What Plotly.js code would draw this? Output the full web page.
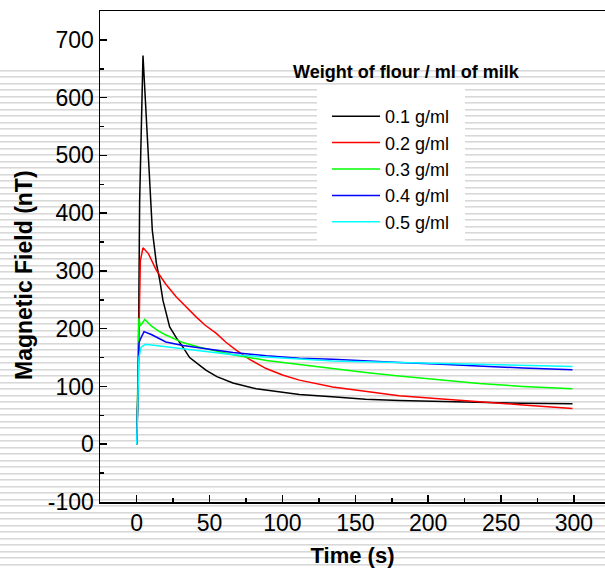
<!DOCTYPE html>
<html><head><meta charset="utf-8">
<script src="https://cdn.plot.ly/plotly-3.0.1.min.js"></script>
<style>
html,body{margin:0;padding:0;background:#fff;}
#wrap{position:relative;width:605px;height:570px;overflow:hidden;}
#stripes{position:absolute;left:0;top:70px;width:605px;height:500px;
background:repeating-linear-gradient(to bottom,#d8d8d8 0px,#d8d8d8 1px,#e8e8e8 1px,#e8e8e8 2px,#ffffff 2px,#ffffff 6.5px);}
#chart{position:absolute;left:0;top:0;width:605px;height:570px;}
</style></head><body>
<div id="wrap"><div id="stripes"></div><div id="chart"></div></div>
<script>
// Series names
const seriesNames = ["0.1 g/ml", "0.2 g/ml", "0.3 g/ml", "0.4 g/ml", "0.5 g/ml"];
const seriesColors = ["#000000", "#ff0000", "#00ff00", "#0000ff", "#00ffff"];

// Tick labels
const yTickVals = [-100, 0, 100, 200, 300, 400, 500, 600, 700];
const yTickText = ["-100", "0", "100", "200", "300", "400", "500", "600", "700"];
const xTickVals = [0, 50, 100, 150, 200, 250, 300];
const xTickText = ["0", "50", "100", "150", "200", "250", "300"];

// 0.1 g/ml
const t1 = [0, 1, 2, 4.3, 10.7, 13.5, 15.8, 18, 22.6, 27.2, 31.7, 36.3, 43, 47.7, 55, 66, 82, 98, 111.6, 134, 157, 180, 205, 235, 265, 299];
const v1 = [0, 100, 420, 673, 370, 313, 284, 249, 203, 184, 168, 150, 137, 128, 117, 106, 96, 90, 86, 82, 78, 75.5, 74, 72, 71, 70];

// 0.2 g/ml
const t2 = [0, 1, 1.5, 2.5, 4.3, 8, 13.5, 20, 27.2, 34, 40.9, 47, 54.6, 61, 68.2, 78, 88.8, 100, 111.6, 134.5, 157, 180, 205, 235, 265, 299];
const v2 = [0, 150, 220, 318, 340, 330, 301, 277, 255, 237, 220, 206, 192, 177, 163, 146, 131, 120, 111, 99, 91, 84, 79, 73, 68, 62];

// 0.3 g/ml
const t3 = [0, 1.5, 2.5, 5.5, 10, 15, 20, 31.7, 43, 55, 66, 89, 111.6, 134.5, 157, 180, 205, 235, 265, 299];
const v3 = [0, 218, 205, 216, 205, 196, 189, 176, 168, 161, 155, 145, 138, 130, 124, 118, 112, 105, 100, 96];

// 0.4 g/ml
const t4 = [0, 1.5, 2.5, 5, 10, 20, 31.7, 43, 66, 89, 111.6, 134.5, 157, 180, 205, 235, 265, 299];
const v4 = [0, 175, 182, 195, 190, 177, 171, 167, 159, 153, 149, 147, 144, 141.5, 139, 135, 132, 129];

// 0.5 g/ml
const t5 = [0, 1.5, 3, 6, 10, 20, 43, 66, 89, 111.6, 134.5, 157, 180, 205, 235, 265, 299];
const v5 = [0, 150, 168, 173, 172, 169, 161, 155, 151, 147, 144, 143, 141.5, 140, 138.5, 136.5, 134.5];

const xs = [t1, t2, t3, t4, t5];
const ys = [v1, v2, v3, v4, v5];

const FONT = "Liberation Sans, Arial, sans-serif";
const L = 100, T = 11, B = 68, W = 605, H = 570;
const pw = W - L, ph = H - T - B;
const px = v => (v - L) / pw;          // page px -> paper x
const py = v => (H - B - v) / ph;      // page px -> paper y

const data = seriesNames.map((n, i) => ({
  x: xs[i], y: ys[i], name: n, type: "scatter", mode: "lines",
  legendgroup: "g" + i,
  line: {color: seriesColors[i], width: 1.5}
}));

const layout = {
  width: W, height: H,
  margin: {l: L, r: 0, t: T, b: B, pad: 0},
  paper_bgcolor: "rgba(0,0,0,0)", plot_bgcolor: "rgba(0,0,0,0)",
  font: {family: FONT, color: "#000"},
  showlegend: true,
  legend: {
    x: px(327), y: py(98), xanchor: "left", yanchor: "top",
    bgcolor: "rgba(0,0,0,0)", borderwidth: 0,
    font: {family: FONT, size: 18, color: "#000"},
    itemwidth: 48, tracegroupgap: 0, traceorder: "grouped"
  },
  shapes: [
    {type: "rect", xref: "paper", yref: "paper", layer: "below",
     x0: px(317), x1: px(465), y0: py(86), y1: py(242),
     fillcolor: "#ffffff", line: {width: 0}}
  ],
  xaxis: {
    range: [-25.2, 321.3], tickmode: "array", tickvals: xTickVals, ticktext: xTickText,
    ticks: "inside", ticklen: 7, tickwidth: 1.5, tickcolor: "#000",
    minor: {dtick: 25, tick0: 0, ticks: "inside", ticklen: 4, tickwidth: 1.5, tickcolor: "#000"},
    showline: true, linewidth: 1.5, linecolor: "#000", mirror: true,
    showgrid: false, zeroline: false,
    tickfont: {family: FONT, size: 23, color: "#000"},
    title: {text: "Time (s)", font: {family: FONT, size: 22, weight: "bold", color: "#000"}, standoff: 12}
  },
  yaxis: {
    range: [-100, 750], tickmode: "array", tickvals: yTickVals, ticktext: yTickText,
    ticks: "inside", ticklen: 7, tickwidth: 1.5, tickcolor: "#000",
    minor: {dtick: 50, tick0: 0, ticks: "inside", ticklen: 4, tickwidth: 1.5, tickcolor: "#000"},
    showline: true, linewidth: 1.5, linecolor: "#000",
    showgrid: false, zeroline: false,
    tickfont: {family: FONT, size: 23, color: "#000"}
  },
  annotations: [
    {text: "Weight of flour / ml of milk", xref: "paper", yref: "paper",
     x: px(406), y: py(72), xanchor: "center", yanchor: "middle", showarrow: false,
     font: {family: FONT, size: 18, weight: "bold", color: "#000"}},
    {text: "Magnetic Field (nT)", xref: "paper", yref: "paper", textangle: -90,
     x: px(24), y: py(275), xanchor: "center", yanchor: "middle", showarrow: false,
     font: {family: FONT, size: 23, weight: "bold", color: "#000"}}
  ]
};

Plotly.newPlot("chart", data, layout, {displayModeBar: false, staticPlot: true});
</script>
</body></html>
